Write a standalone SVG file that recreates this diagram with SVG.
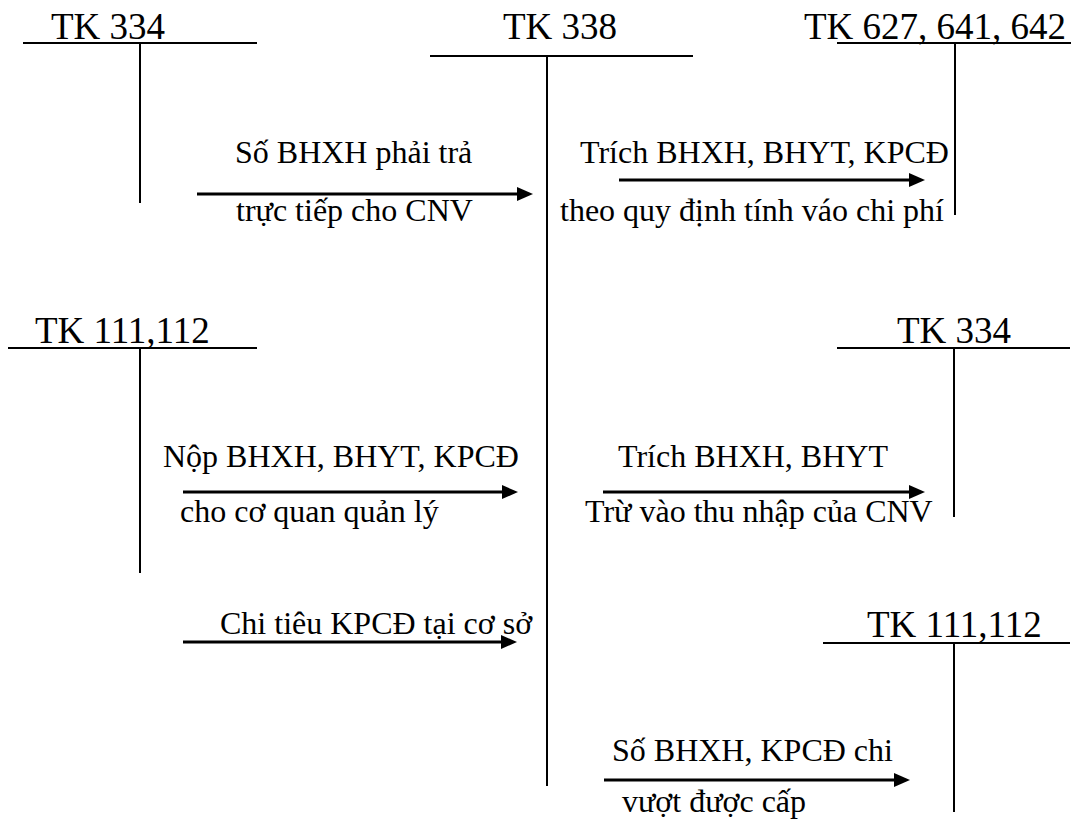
<svg xmlns="http://www.w3.org/2000/svg" width="1078" height="823" viewBox="0 0 1078 823">
<style>
.t{stroke:#000;stroke-width:2;fill:none}
.h{font-family:"Liberation Serif","Times New Roman",serif;font-size:37px;fill:#000}
.l{font-family:"Liberation Serif","Times New Roman",serif;font-size:32px;fill:#000}
.a{stroke:#000;stroke-width:3;fill:none;marker-end:url(#ah)}
</style>
<defs>
<marker id="ah" markerUnits="userSpaceOnUse" markerWidth="18" markerHeight="16" refX="6" refY="7" orient="auto">
<path d="M0,0 L16,7 L0,14 Z" fill="#000"/>
</marker>
</defs>
<rect width="1078" height="823" fill="#fff"/>
<g id="tk334-top">
<text class="h" x="51" y="39">TK 334</text>
<line class="t" x1="23" y1="43" x2="257" y2="43"/>
<line class="t" x1="140" y1="43" x2="140" y2="203"/>
</g>
<g id="tk338">
<text class="h" x="503" y="39">TK 338</text>
<line class="t" x1="430" y1="56" x2="693" y2="56"/>
<line class="t" x1="547" y1="56" x2="547" y2="786"/>
</g>
<g id="tk627">
<text class="h" x="804" y="39">TK 627, 641, 642</text>
<line class="t" x1="837" y1="43" x2="1071" y2="43"/>
<line class="t" x1="955" y1="43" x2="955" y2="215"/>
</g>
<g id="tk111-left">
<text class="h" x="35" y="343">TK 111,112</text>
<line class="t" x1="8" y1="348" x2="257" y2="348"/>
<line class="t" x1="140" y1="348" x2="140" y2="573"/>
</g>
<g id="tk334-right">
<text class="h" x="897" y="343">TK 334</text>
<line class="t" x1="837" y1="348" x2="1070" y2="348"/>
<line class="t" x1="954" y1="348" x2="954" y2="517"/>
</g>
<g id="tk111-right">
<text class="h" x="867" y="637">TK 111,112</text>
<line class="t" x1="823" y1="643" x2="1070" y2="643"/>
<line class="t" x1="954" y1="643" x2="954" y2="812"/>
</g>
<g id="connectors">
<line class="a" x1="197" y1="194" x2="523" y2="194"/>
<line class="a" x1="619" y1="180" x2="915" y2="180"/>
<line class="a" x1="183" y1="492" x2="508" y2="492"/>
<line class="a" x1="603" y1="492" x2="915" y2="492"/>
<line class="a" x1="183" y1="642" x2="507" y2="642"/>
<line class="a" x1="604" y1="780" x2="900" y2="780"/>
</g>
<g id="labels">
<text class="l" x="235" y="163">Số BHXH phải trả</text>
<text class="l" x="236" y="221">trực tiếp cho CNV</text>
<text class="l" x="580" y="163">Trích BHXH, BHYT, KPCĐ</text>
<text class="l" x="560" y="221">theo quy định tính váo chi phí</text>
<text class="l" x="163" y="467">Nộp BHXH, BHYT, KPCĐ</text>
<text class="l" x="180" y="522">cho cơ quan quản lý</text>
<text class="l" x="618" y="467">Trích BHXH, BHYT</text>
<text class="l" x="585" y="522">Trừ vào thu nhập của CNV</text>
<text class="l" x="220" y="634">Chi tiêu KPCĐ tại cơ sở</text>
<text class="l" x="612" y="761">Số BHXH, KPCĐ chi</text>
<text class="l" x="622" y="812">vượt được cấp</text>
</g>
</svg>
